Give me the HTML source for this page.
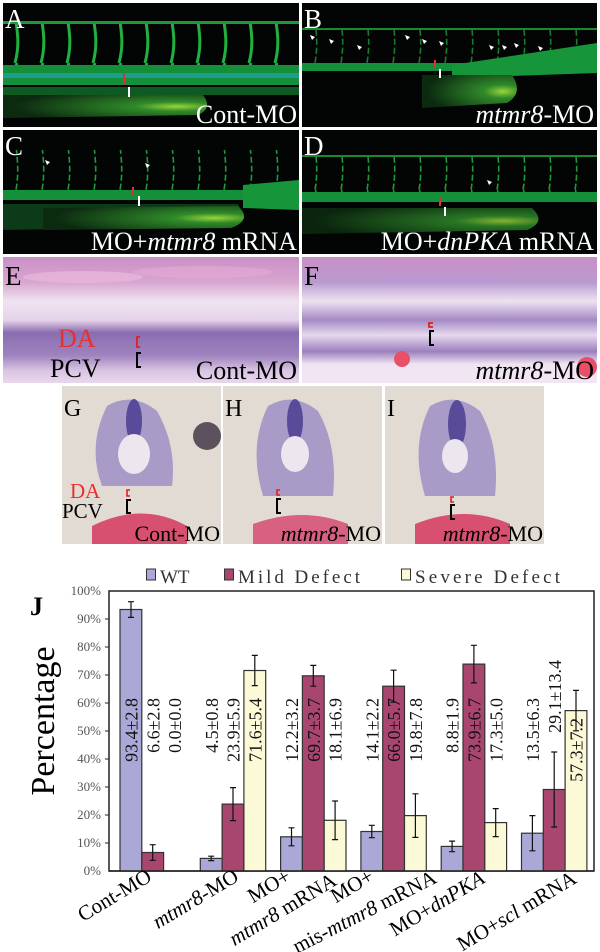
<!DOCTYPE html>
<html><head><meta charset="utf-8">
<style>
html,body{margin:0;padding:0;background:#fff;}
svg{display:block;}
text{font-family:"Liberation Serif",serif;}
</style></head>
<body>
<svg width="600" height="952" viewBox="0 0 600 952" xmlns="http://www.w3.org/2000/svg">
<defs>
  <radialGradient id="yolk" cx="0.85" cy="0.5" r="0.8">
    <stop offset="0" stop-color="#9bd43a"/>
    <stop offset="0.25" stop-color="#2f8a2a"/>
    <stop offset="1" stop-color="#0c2a10"/>
  </radialGradient>
  <pattern id="segs" x="0" y="0" width="26" height="60" patternUnits="userSpaceOnUse">
    <path d="M14 0 C8 15 20 30 12 60" stroke="#22b040" stroke-width="3" fill="none"/>
  </pattern>
  <pattern id="segsThin" x="0" y="0" width="26" height="60" patternUnits="userSpaceOnUse">
    <path d="M14 0 C10 15 18 30 13 60" stroke="#1d9a38" stroke-width="1.6" fill="none" stroke-dasharray="6 3"/>
  </pattern>
  <linearGradient id="histo" x1="0" y1="0" x2="0" y2="1">
    <stop offset="0" stop-color="#c98fc6"/>
    <stop offset="0.2" stop-color="#d7a6d0"/>
    <stop offset="0.35" stop-color="#efe3f0"/>
    <stop offset="0.5" stop-color="#e6d3ea"/>
    <stop offset="0.6" stop-color="#8a6db0"/>
    <stop offset="0.78" stop-color="#9e83bf"/>
    <stop offset="0.9" stop-color="#d9c3e2"/>
    <stop offset="1" stop-color="#e8d8ec"/>
  </linearGradient>
  <linearGradient id="histoF" x1="0" y1="0" x2="0" y2="1">
    <stop offset="0" stop-color="#c98fc6"/>
    <stop offset="0.2" stop-color="#b99ad0"/>
    <stop offset="0.35" stop-color="#eee2f0"/>
    <stop offset="0.5" stop-color="#a48ac4"/>
    <stop offset="0.62" stop-color="#e6d8ee"/>
    <stop offset="0.75" stop-color="#9c80bd"/>
    <stop offset="0.85" stop-color="#efe4f2"/>
    <stop offset="1" stop-color="#f1e6f2"/>
  </linearGradient>
</defs>

<!-- Panel A -->
<g transform="translate(3,3)">
  <rect width="296" height="124" fill="#020503"/>
  <rect x="0" y="18" width="296" height="50" fill="url(#segs)"/>
  <rect x="0" y="18" width="296" height="3" fill="#1c9a38"/>
  <rect x="0" y="62" width="296" height="20" fill="#15903a"/>
  <rect x="0" y="70" width="296" height="5" fill="#1ea4b0" opacity="0.7"/>
  <rect x="0" y="84" width="296" height="8" fill="#0e5a22"/>
  <path d="M0 92 L200 92 Q210 105 195 112 L0 115 Z" fill="url(#yolk)"/>
  <rect x="120" y="70" width="2" height="12" fill="#e03030"/>
  <rect x="125" y="84" width="2" height="10" fill="#fff"/>
  <text x="2" y="25" font-size="27" fill="#fff">A</text>
  <text x="294" y="120" font-size="26" fill="#fff" text-anchor="end">Cont-MO</text>
</g>
<!-- Panel B -->
<g transform="translate(302,3)">
  <rect width="295" height="124" fill="#020503"/>
  <rect x="0" y="25" width="295" height="35" fill="url(#segsThin)" opacity="0.8"/>
  <rect x="0" y="25" width="295" height="2" fill="#168a30"/>
  <rect x="0" y="60" width="295" height="8" fill="#15903a"/>
  <path d="M150 62 L295 40 L295 70 L150 75 Z" fill="#17953b"/>
  <path d="M120 72 L210 72 Q222 90 205 100 L120 105 Z" fill="url(#yolk)"/>
  <rect x="132" y="57" width="2" height="8" fill="#e03030"/>
  <rect x="137" y="66" width="2" height="9" fill="#fff"/>
  <g fill="#fff">
    <path d="M8 32 l5 2 l-3 3z"/><path d="M27 36 l5 2 l-3 3z"/><path d="M55 42 l5 2 l-3 3z"/>
    <path d="M103 32 l5 2 l-3 3z"/><path d="M120 36 l5 2 l-3 3z"/><path d="M137 38 l5 2 l-3 3z"/>
    <path d="M187 42 l5 2 l-3 3z"/><path d="M200 42 l5 2 l-3 3z"/><path d="M212 40 l5 2 l-3 3z"/><path d="M236 43 l5 2 l-3 3z"/>
  </g>
  <text x="2" y="25" font-size="27" fill="#fff">B</text>
  <text x="292" y="120" font-size="26" fill="#fff" text-anchor="end"><tspan font-style="italic">mtmr8</tspan>-MO</text>
</g>
<!-- Panel C -->
<g transform="translate(3,130)">
  <rect width="296" height="124" fill="#020503"/>
  <rect x="0" y="20" width="296" height="42" fill="url(#segsThin)"/>
  <rect x="0" y="60" width="296" height="10" fill="#15903a"/>
  <path d="M240 55 L296 50 L296 80 L240 78 Z" fill="#17953b"/>
  <path d="M0 74 L235 74 Q245 90 230 96 L0 100 Z" fill="#0d3a18"/>
  <path d="M40 78 L235 76 Q250 90 228 98 L40 100 Z" fill="url(#yolk)"/>
  <rect x="129" y="57" width="2" height="8" fill="#e03030"/>
  <rect x="135" y="66" width="2" height="10" fill="#fff"/>
  <g fill="#fff"><path d="M42 30 l5 2 l-3 3z"/><path d="M142 33 l5 2 l-3 3z"/></g>
  <text x="2" y="25" font-size="27" fill="#fff">C</text>
  <text x="294" y="120" font-size="26" fill="#fff" text-anchor="end">MO+<tspan font-style="italic">mtmr8</tspan> mRNA</text>
</g>
<!-- Panel D -->
<g transform="translate(302,130)">
  <rect width="295" height="124" fill="#020503"/>
  <rect x="0" y="25" width="295" height="42" fill="url(#segsThin)"/>
  <rect x="0" y="25" width="295" height="2" fill="#168a30"/>
  <rect x="0" y="62" width="295" height="10" fill="#15903a"/>
  <path d="M0 78 L230 78 Q245 92 225 100 L0 104 Z" fill="url(#yolk)" opacity="0.85"/>
  <rect x="137" y="68" width="2" height="8" fill="#e03030"/>
  <rect x="142" y="77" width="2" height="9" fill="#fff"/>
  <path d="M185 50 l5 2 l-3 3z" fill="#fff"/>
  <text x="2" y="25" font-size="27" fill="#fff">D</text>
  <text x="292" y="120" font-size="26" fill="#fff" text-anchor="end">MO+<tspan font-style="italic">dnPKA</tspan> mRNA</text>
</g>
<!-- Panel E -->
<g transform="translate(3,257)">
  <rect width="296" height="126" fill="url(#histo)"/>
  <ellipse cx="80" cy="20" rx="60" ry="6" fill="#e9b8dc" opacity="0.7"/>
  <ellipse cx="200" cy="15" rx="70" ry="6" fill="#e2a8d2" opacity="0.7"/>
  <text x="2" y="28" font-size="27" fill="#000">E</text>
  <path d="M137 80 h-3 v10 h3" stroke="#e02020" stroke-width="1.8" fill="none"/>
  <path d="M138 96 h-4 v14 h4" stroke="#000" stroke-width="2" fill="none"/>
  <text x="55" y="90" font-size="26" fill="#e83030">DA</text>
  <text x="47" y="120" font-size="26" fill="#000">PCV</text>
  <text x="294" y="122" font-size="26" fill="#000" text-anchor="end">Cont-MO</text>
</g>
<!-- Panel F -->
<g transform="translate(302,257)">
  <rect width="295" height="126" fill="url(#histoF)"/>
  <circle cx="100" cy="102" r="8" fill="#e8506a"/>
  <circle cx="285" cy="110" r="10" fill="#e8506a"/>
  <text x="2" y="28" font-size="27" fill="#000">F</text>
  <path d="M131 66 h-4 v4 h4" stroke="#e02020" stroke-width="1.8" fill="none"/>
  <path d="M132 74 h-4 v14 h4" stroke="#000" stroke-width="2" fill="none"/>
  <text x="292" y="122" font-size="26" fill="#000" text-anchor="end"><tspan font-style="italic">mtmr8</tspan>-MO</text>
</g>
<!-- Panels G H I -->
<g transform="translate(62,386)">
  <rect width="159" height="158" fill="#e2dbd3"/>
  <path d="M45 20 Q70 5 95 25 Q115 60 110 100 L40 100 Q25 60 45 20Z" fill="#a99bc8"/>
  <ellipse cx="72" cy="35" rx="8" ry="22" fill="#5a4a9a"/>
  <ellipse cx="72" cy="68" rx="16" ry="20" fill="#ece6ee"/>
  <circle cx="145" cy="50" r="14" fill="#3a3040" opacity="0.8"/>
  <path d="M30 140 Q80 115 125 140 L125 158 L30 158Z" fill="#d85070"/>
  <text x="2" y="30" font-size="24" fill="#000">G</text>
  <text x="8" y="112" font-size="21" fill="#e83030">DA</text>
  <text x="0" y="132" font-size="21" fill="#000">PCV</text>
  <path d="M68 104 h-3 v6 h3" stroke="#e02020" stroke-width="1.6" fill="none"/>
  <path d="M69 114 h-4 v13 h4" stroke="#000" stroke-width="2" fill="none"/>
  <text x="158" y="155" font-size="22" fill="#000" text-anchor="end">Cont-MO</text>
</g>
<g transform="translate(223,386)">
  <rect width="159" height="158" fill="#e2dbd3"/>
  <path d="M45 20 Q70 5 95 25 Q115 60 110 110 L40 110 Q25 60 45 20Z" fill="#a99bc8"/>
  <ellipse cx="72" cy="35" rx="8" ry="22" fill="#5a4a9a"/>
  <ellipse cx="72" cy="68" rx="14" ry="18" fill="#ece6ee"/>
  <path d="M30 138 Q80 120 125 138 L125 158 L30 158Z" fill="#d86080"/>
  <text x="2" y="30" font-size="24" fill="#000">H</text>
  <path d="M57 104 h-3 v5 h3" stroke="#e02020" stroke-width="1.6" fill="none"/>
  <path d="M58 113 h-4 v14 h4" stroke="#000" stroke-width="2" fill="none"/>
  <text x="158" y="155" font-size="22" fill="#000" text-anchor="end"><tspan font-style="italic">mtmr8</tspan>-MO</text>
</g>
<g transform="translate(385,386)">
  <rect width="159" height="158" fill="#e2dbd3"/>
  <path d="M45 20 Q70 5 95 25 Q115 60 110 110 L40 110 Q25 60 45 20Z" fill="#a99bc8"/>
  <ellipse cx="72" cy="38" rx="9" ry="24" fill="#5a4a9a"/>
  <ellipse cx="70" cy="70" rx="13" ry="17" fill="#ece6ee"/>
  <path d="M30 138 Q80 118 125 138 L125 158 L30 158Z" fill="#d85070"/>
  <text x="2" y="30" font-size="24" fill="#000">I</text>
  <path d="M69 111 h-3 v5 h3" stroke="#e02020" stroke-width="1.6" fill="none"/>
  <path d="M70 119 h-4 v14 h4" stroke="#000" stroke-width="2" fill="none"/>
  <text x="158" y="155" font-size="22" fill="#000" text-anchor="end"><tspan font-style="italic">mtmr8</tspan>-MO</text>
</g>

<!-- Chart J -->
<text x="30" y="615" font-size="26" font-weight="bold">J</text>
<g font-family="Liberation Mono, monospace" font-size="19" fill="#333">
  <rect x="146.5" y="569" width="9" height="11" fill="#a9a8d6" stroke="#333"/>
  <text x="160" y="583">WT</text>
  <rect x="224.5" y="569" width="9" height="11" fill="#a8466f" stroke="#333"/>
  <text x="238" y="583" textLength="122">Mild Defect</text>
  <rect x="401.5" y="569" width="9" height="11" fill="#fbf9d6" stroke="#333"/>
  <text x="415" y="583" textLength="145">Severe Defect</text>
</g>
<rect x="109" y="591" width="485" height="280" fill="none" stroke="#222" stroke-width="1.5"/>
<g font-size="13" fill="#555" text-anchor="end">
  <text x="101" y="875">0%</text><text x="101" y="847">10%</text><text x="101" y="819">20%</text>
  <text x="101" y="791">30%</text><text x="101" y="763">40%</text><text x="101" y="735">50%</text>
  <text x="101" y="707">60%</text><text x="101" y="679">70%</text><text x="101" y="651">80%</text>
  <text x="101" y="623">90%</text><text x="101" y="595">100%</text>
</g>
<g stroke="#222" stroke-width="1">
  <line x1="105" y1="843" x2="109" y2="843"/><line x1="105" y1="815" x2="109" y2="815"/>
  <line x1="105" y1="787" x2="109" y2="787"/><line x1="105" y1="759" x2="109" y2="759"/>
  <line x1="105" y1="731" x2="109" y2="731"/><line x1="105" y1="703" x2="109" y2="703"/>
  <line x1="105" y1="675" x2="109" y2="675"/><line x1="105" y1="647" x2="109" y2="647"/>
  <line x1="105" y1="619" x2="109" y2="619"/>
</g>
<text transform="translate(54,721) rotate(-90)" font-size="34" text-anchor="middle">Percentage</text>

<g stroke="#333" stroke-width="1.2">
  <rect x="120" y="609.5" width="21.8" height="261.5" fill="#a9a8d6"/>
  <rect x="141.8" y="852.5" width="21.8" height="18.5" fill="#a8466f"/>
  <rect x="200.3" y="858.4" width="21.8" height="12.6" fill="#a9a8d6"/>
  <rect x="222.1" y="804.1" width="21.8" height="66.9" fill="#a8466f"/>
  <rect x="243.9" y="670.5" width="21.8" height="200.5" fill="#fbf9d6"/>
  <rect x="280.6" y="836.8" width="21.8" height="34.2" fill="#a9a8d6"/>
  <rect x="302.4" y="675.8" width="21.8" height="195.2" fill="#a8466f"/>
  <rect x="324.2" y="820.3" width="21.8" height="50.7" fill="#fbf9d6"/>
  <rect x="360.9" y="831.5" width="21.8" height="39.5" fill="#a9a8d6"/>
  <rect x="382.7" y="686.2" width="21.8" height="184.8" fill="#a8466f"/>
  <rect x="404.5" y="815.6" width="21.8" height="55.4" fill="#fbf9d6"/>
  <rect x="441.2" y="846.4" width="21.8" height="24.6" fill="#a9a8d6"/>
  <rect x="463" y="664.1" width="21.8" height="206.9" fill="#a8466f"/>
  <rect x="484.8" y="822.6" width="21.8" height="48.4" fill="#fbf9d6"/>
  <rect x="521.5" y="833.2" width="21.8" height="37.8" fill="#a9a8d6"/>
  <rect x="543.3" y="789.5" width="21.8" height="81.5" fill="#a8466f"/>
  <rect x="565.1" y="710.6" width="21.8" height="160.4" fill="#fbf9d6"/>
</g>
<line x1="109" y1="871" x2="594" y2="871" stroke="#222" stroke-width="1.5"/>
<g stroke="#111" stroke-width="1.2" fill="none">
  <path d="M131 601.7V617.4M128 601.7h6M128 617.4h6"/>
  <path d="M152.7 844.7V860.3M149.7 844.7h6M149.7 860.3h6"/>
  <path d="M211.2 856.2V860.6M208.2 856.2h6M208.2 860.6h6"/>
  <path d="M233 787.6V820.6M230 787.6h6M230 820.6h6"/>
  <path d="M254.8 655.4V685.6M251.8 655.4h6M251.8 685.6h6"/>
  <path d="M291.5 827.8V845.8M288.5 827.8h6M288.5 845.8h6"/>
  <path d="M313.3 665.4V686.2M310.3 665.4h6M310.3 686.2h6"/>
  <path d="M335.1 801V839.6M332.1 801h6M332.1 839.6h6"/>
  <path d="M371.8 825.3V837.7M368.8 825.3h6M368.8 837.7h6"/>
  <path d="M393.6 670.2V702.2M390.6 670.2h6M390.6 702.2h6"/>
  <path d="M415.4 793.8V837.4M412.4 793.8h6M412.4 837.4h6"/>
  <path d="M452.1 841.1V851.7M449.1 841.1h6M449.1 851.7h6"/>
  <path d="M473.9 645.3V682.9M470.9 645.3h6M470.9 682.9h6"/>
  <path d="M495.7 808.6V836.6M492.7 808.6h6M492.7 836.6h6"/>
  <path d="M532.4 815.6V850.8M529.4 815.6h6M529.4 850.8h6"/>
  <path d="M554.2 752V827M551.2 752h6M551.2 827h6"/>
  <path d="M576 690.4V730.8M573 690.4h6M573 730.8h6"/>
</g>
<g font-size="18" fill="#111" text-anchor="end">
  <text transform="translate(137.5,698) rotate(-90)">93.4±2.8</text>
  <text transform="translate(159.3,698) rotate(-90)">6.6±2.8</text>
  <text transform="translate(181,698) rotate(-90)">0.0±0.0</text>
  <text transform="translate(217.8,698) rotate(-90)">4.5±0.8</text>
  <text transform="translate(239.6,698) rotate(-90)">23.9±5.9</text>
  <text transform="translate(261.4,698) rotate(-90)">71.6±5.4</text>
  <text transform="translate(298.1,698) rotate(-90)">12.2±3.2</text>
  <text transform="translate(319.9,698) rotate(-90)">69.7±3.7</text>
  <text transform="translate(341.7,698) rotate(-90)">18.1±6.9</text>
  <text transform="translate(378.4,698) rotate(-90)">14.1±2.2</text>
  <text transform="translate(400.2,698) rotate(-90)">66.0±5.7</text>
  <text transform="translate(422,698) rotate(-90)">19.8±7.8</text>
  <text transform="translate(458.7,698) rotate(-90)">8.8±1.9</text>
  <text transform="translate(480.5,698) rotate(-90)">73.9±6.7</text>
  <text transform="translate(502.3,698) rotate(-90)">17.3±5.0</text>
  <text transform="translate(539,698) rotate(-90)">13.5±6.3</text>
  <text transform="translate(560.8,660) rotate(-90)">29.1±13.4</text>
  <text transform="translate(582.6,718) rotate(-90)">57.3±7.2</text>
</g>
<g font-size="21" fill="#000" text-anchor="end">
  <text transform="translate(153,880) rotate(-31)">Cont-MO</text>
  <text transform="translate(240,880) rotate(-31)"><tspan font-style="italic">mtmr8</tspan>-MO</text>
  <text transform="translate(292,880) rotate(-31)">MO+</text>
  <text transform="translate(338,884) rotate(-31)"><tspan font-style="italic">mtmr8</tspan> mRNA</text>
  <text transform="translate(375,880) rotate(-31)">MO+</text>
  <text transform="translate(438,882) rotate(-27)">mis-<tspan font-style="italic">mtmr8</tspan> mRNA</text>
  <text transform="translate(486,882) rotate(-31)">MO+<tspan font-style="italic">dnPKA</tspan></text>
  <text transform="translate(578,882) rotate(-31)">MO+<tspan font-style="italic">scl</tspan> mRNA</text>
</g>
</svg>
</body></html>
